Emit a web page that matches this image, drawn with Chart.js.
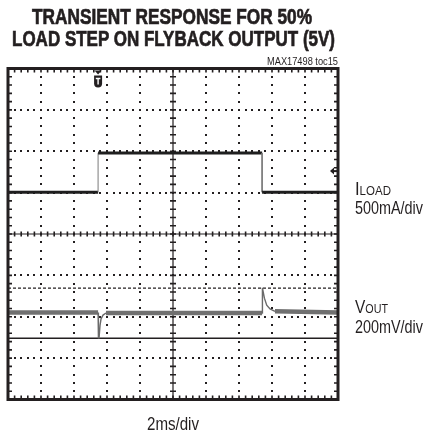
<!DOCTYPE html>
<html>
<head>
<meta charset="utf-8">
<script src="https://cdn.jsdelivr.net/npm/chart.js@4.4.1/dist/chart.umd.min.js"></script>
<style>
  html, body { margin: 0; padding: 0; background: #fff; }
  #wrap { position: relative; width: 426px; height: 435px; overflow: hidden; }
  #scope { position: absolute; left: 0; top: 0; }
  .txt {
    position: absolute;
    white-space: nowrap;
    font-family: "Liberation Sans Narrow", "Liberation Sans", Arial, sans-serif;
    color: #231f20;
    line-height: 1;
    transform-origin: 0 0;
  }
  .title { font-weight: bold; font-size: 22px; -webkit-text-stroke: 0.7px #231f20; }
  .lbl { font-size: 18px; }
  .sub { font-size: 12.5px; }
</style>
</head>
<body>
<div id="wrap">
  <canvas id="scope" width="426" height="435"></canvas>
  <div class="txt title" style="left:32px; top:6px;" data-w="280">TRANSIENT RESPONSE FOR 50%</div>
  <div class="txt title" style="left:12px; top:28px;" data-w="323">LOAD STEP ON FLYBACK OUTPUT (5V)</div>
  <div class="txt" style="left:267px; top:56px; font-size:11px;" data-w="71">MAX17498 toc15</div>
  <div class="txt lbl" style="left:355px; top:180px;" data-w="36">I<span class="sub">LOAD</span></div>
  <div class="txt lbl" style="left:355px; top:199px;" data-w="68">500mA/div</div>
  <div class="txt lbl" style="left:355px; top:298px;" data-w="33">V<span class="sub">OUT</span></div>
  <div class="txt lbl" style="left:355px; top:318px;" data-w="68">200mV/div</div>
  <div class="txt lbl" style="left:147px; top:415px;" data-w="52">2ms/div</div>
</div>
<script>
// screen is 10 x 8 divisions, values below are in divisions (0 = centre line)
const iloadX = [0, 2.73, 2.73, 7.70, 7.70, 10];
const iloadY = [1.01, 1.01, 1.96, 1.96, 1.01, 1.01];

const voutX = [0, 2.73, 2.74, 2.76, 2.79, 2.82, 2.88, 2.97, 7.70, 7.71, 7.77, 7.84, 7.94, 8.09, 10];
const voutY = [-1.90, -1.90, -2.51, -2.51, -2.20, -2.05, -1.96, -1.91, -1.91, -1.30, -1.55, -1.72, -1.81, -1.87, -1.90];

const cursorMax = -1.31;  // dashed cursor
const cursorMin = -2.52;  // solid cursor
const triggerX = 2.73;
const levelMarkerY = 1.52;

const toPoints = (xs, ys) => xs.map((x, i) => ({ x, y: ys[i] }));

const graticule = {
  id: "graticule",
  beforeDatasetsDraw (chart) {
    const { ctx, scales: { x, y } } = chart;
    ctx.save();
    ctx.fillStyle = "#231f20";
    // dotted grid
    for (let i = 1; i < 10; i++) {
      if (i === 5) continue;
      const px = Math.round(x.getPixelForValue(i));
      for (let j = 1; j < 40; j++) {
        const py = Math.round(y.getPixelForValue(-4 + j * 0.2));
        ctx.fillRect(px - 1, py - 1, 2, 2);
      }
    }
    for (let i = -3; i <= 3; i++) {
      if (i === 0) continue;
      const py = Math.round(y.getPixelForValue(i));
      for (let j = 1; j < 50; j++) {
        const px = Math.round(x.getPixelForValue(j * 0.2));
        ctx.fillRect(px - 1, py - 1, 2, 2);
      }
    }
    // centre cross with minor ticks
    ctx.strokeStyle = "#231f20";
    ctx.lineWidth = 1.2;
    const cx = x.getPixelForValue(5);
    const cy = y.getPixelForValue(0);
    ctx.beginPath();
    ctx.moveTo(x.left, cy); ctx.lineTo(x.right, cy);
    ctx.moveTo(cx, y.top); ctx.lineTo(cx, y.bottom);
    ctx.stroke();
    ctx.lineWidth = 1.6;
    ctx.beginPath();
    for (let j = 1; j < 50; j++) {
      const px = x.getPixelForValue(j * 0.2);
      ctx.moveTo(px, cy - 2.5); ctx.lineTo(px, cy + 2.5);
      // border ticks top / bottom
      ctx.moveTo(px, y.top); ctx.lineTo(px, y.top + 4);
      ctx.moveTo(px, y.bottom); ctx.lineTo(px, y.bottom - 4);
    }
    for (let j = 1; j < 40; j++) {
      const py = y.getPixelForValue(-4 + j * 0.2);
      ctx.moveTo(cx - 3, py); ctx.lineTo(cx + 3, py);
      ctx.moveTo(x.left, py); ctx.lineTo(x.left + 4, py);
      ctx.moveTo(x.right, py); ctx.lineTo(x.right - 4, py);
    }
    ctx.stroke();
    ctx.restore();
  },
  afterDatasetsDraw (chart) {
    const { ctx, chartArea: a, scales: { x, y } } = chart;
    ctx.save();
    ctx.strokeStyle = "#231f20";
    ctx.fillStyle = "#231f20";
    ctx.lineWidth = 3;
    ctx.strokeRect(a.left, a.top, a.right - a.left, a.bottom - a.top);

    // trigger marker
    const tx = x.getPixelForValue(triggerX);
    const ty = a.top + 2;
    ctx.beginPath();
    ctx.moveTo(tx - 3.5, ty); ctx.lineTo(tx + 3.5, ty); ctx.lineTo(tx, ty + 4);
    ctx.closePath(); ctx.fill();
    ctx.beginPath();
    ctx.moveTo(tx - 4, ty + 5);
    ctx.lineTo(tx + 4, ty + 5);
    ctx.lineTo(tx + 4, ty + 13);
    ctx.quadraticCurveTo(tx + 4, ty + 17, tx, ty + 17);
    ctx.quadraticCurveTo(tx - 4, ty + 17, tx - 4, ty + 13);
    ctx.closePath(); ctx.fill();
    ctx.strokeStyle = "#fff";
    ctx.lineWidth = 1.4;
    ctx.beginPath();
    ctx.moveTo(tx - 2.3, ty + 8); ctx.lineTo(tx + 2.3, ty + 8);
    ctx.moveTo(tx, ty + 8); ctx.lineTo(tx, ty + 14);
    ctx.stroke();

    // level marker on the right edge
    const my = y.getPixelForValue(levelMarkerY);
    const mx = a.right - 8;
    ctx.beginPath();
    ctx.moveTo(mx, my); ctx.lineTo(mx + 4, my - 3.5); ctx.lineTo(mx + 4, my + 3.5);
    ctx.closePath(); ctx.fill();
    ctx.fillRect(mx + 3, my - 1, 4, 2);
    ctx.restore();
  }
};

const isEdge = (c) => Math.abs(c.p1.parsed.x - c.p0.parsed.x) < 0.15;

new Chart(document.getElementById("scope"), {
  type: "scatter",
  data: {
    datasets: [
      {
        label: "ILOAD",
        data: toPoints(iloadX, iloadY),
        showLine: true,
        pointRadius: 0,
        borderColor: "#1e1e1e",
        borderWidth: 3,
        segment: {
          borderWidth: (c) => isEdge(c) ? 1 : 3,
          borderColor: (c) => isEdge(c) ? "#7a7a7a" : "#1e1e1e"
        },
        order: 1
      },
      {
        label: "VOUT",
        data: toPoints(voutX, voutY),
        showLine: true,
        pointRadius: 0,
        borderColor: "#707070",
        borderWidth: 4.5,
        segment: {
          borderWidth: (c) => isEdge(c) ? 1.4 : 4.5,
          borderColor: (c) => isEdge(c) ? "#6a6a6a" : "#707070"
        },
        order: 2
      },
      {
        label: "max",
        data: toPoints([0, 10], [cursorMax, cursorMax]),
        showLine: true,
        pointRadius: 0,
        borderColor: "#231f20",
        borderWidth: 1.3,
        borderDash: [3, 2],
        order: 3
      },
      {
        label: "min",
        data: toPoints([0, 10], [cursorMin, cursorMin]),
        showLine: true,
        pointRadius: 0,
        borderColor: "#231f20",
        borderWidth: 1.6,
        order: 3
      }
    ]
  },
  options: {
    responsive: false,
    animation: false,
    layout: { padding: { left: 8, right: 88, top: 68.5, bottom: 35.5 } },
    plugins: { legend: { display: false }, tooltip: { enabled: false } },
    scales: {
      x: { type: "linear", min: 0, max: 10, display: false },
      y: { type: "linear", min: -4, max: 4, display: false }
    }
  },
  plugins: [graticule]
});

// squeeze each label to the width it has on the original
document.querySelectorAll(".txt").forEach((el) => {
  const w = el.getBoundingClientRect().width;
  const target = Number(el.dataset.w);
  if (w > 0 && target) el.style.transform = `scaleX(${target / w})`;
});
</script>
</body>
</html>
